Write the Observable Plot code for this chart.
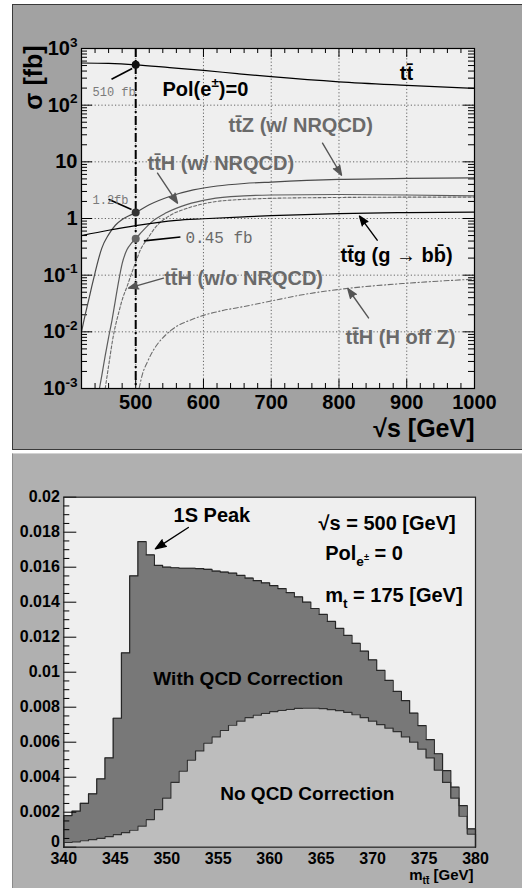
<!DOCTYPE html>
<html>
<head>
<meta charset="utf-8">
<script src="https://cdn.jsdelivr.net/npm/d3@7"></script>
<script src="https://cdn.jsdelivr.net/npm/@observablehq/plot@0.6"></script>
<style>
  html, body { margin: 0; padding: 0; background: #ffffff; }
  body { width: 522px; height: 888px; position: relative; overflow: hidden; }
  .panel { position: absolute; box-sizing: border-box; }
  #bg1 { left: 12px; top: 4px; width: 510px; height: 446px; background: #a2a2a2; border-top: 1px solid #3a3a3a; border-left: 1px solid #3a3a3a; border-bottom: 1px solid #3a3a3a; }
  #bg2 { left: 12px; top: 453px; width: 510px; height: 435px; background: #b0b0b0; border-top: 1px solid #d2d2d2; border-left: 1px solid #8a8a8a; }
  .chart { position: absolute; }
  #c1 { left: 12px; top: 4px; }
  #c2 { left: 12px; top: 453px; }
  svg { overflow: visible; }
</style>
</head>
<body>
<div id="bg1" class="panel"></div>
<div id="bg2" class="panel"></div>
<div id="c1" class="chart"></div>
<div id="c2" class="chart"></div>
<script>
// ================= DATA: top panel (sigma vs sqrt(s)) =================
const ttEnergy = [420, 460, 500, 550, 600, 650, 700, 800, 900, 1000];
const ttSigma  = [555, 545, 515, 460, 410, 360, 318, 258, 224, 198];

const ttZEnergy = [420, 425, 430, 435, 440, 445, 450, 460, 470, 480, 490, 500, 520, 550, 585, 620, 660, 700, 800, 900, 1000];
const ttZSigma  = [0.010, 0.019, 0.034, 0.062, 0.11, 0.19, 0.30, 0.52, 0.76, 0.96, 1.12, 1.27, 1.75, 2.45, 3.2, 3.75, 4.15, 4.4, 4.9, 5.1, 5.2];

const ttHEnergy = [446.5, 450, 455, 460, 465, 470, 475, 480, 487, 494, 500, 510, 525, 545, 575, 610, 660, 700, 800, 900, 1000];
const ttHSigma  = [0.001, 0.0017, 0.0038, 0.008, 0.016, 0.036, 0.08, 0.16, 0.28, 0.37, 0.44, 0.6, 0.9, 1.26, 1.76, 2.2, 2.5, 2.6, 2.65, 2.6, 2.5];

const ttHnoEnergy = [455, 460, 467, 475, 481, 487, 493, 500, 507, 518, 530, 550, 575, 610, 660, 700, 800, 900, 1000];
const ttHnoSigma  = [0.001, 0.0025, 0.0085, 0.022, 0.04, 0.062, 0.10, 0.17, 0.28, 0.45, 0.72, 1.12, 1.5, 1.92, 2.18, 2.27, 2.35, 2.38, 2.38];

const ttgEnergy = [420, 460, 500, 560, 600, 660, 700, 800, 900, 1000];
const ttgSigma  = [0.50, 0.62, 0.75, 0.93, 0.99, 1.07, 1.12, 1.22, 1.27, 1.30];

const ttHoffEnergy = [505, 510, 517, 525, 534, 545, 559, 580, 600, 630, 660, 700, 750, 800, 900, 1000];
const ttHoffSigma  = [0.001, 0.0018, 0.0029, 0.0045, 0.0065, 0.009, 0.0122, 0.016, 0.0195, 0.024, 0.028, 0.035, 0.046, 0.056, 0.072, 0.085];

const refEnergy = [500];
const markedSigma = [515, 1.27, 0.44];

const xTicks1 = [500, 600, 700, 800, 900, 1000];
const xGrid1 = [500, 600, 700, 800, 900];
const yDecades = [1e-3, 1e-2, 1e-1, 1, 10, 100, 1000];
const yGrid1 = [1e-2, 1e-1, 1, 10, 100];

// ================= DATA: bottom panel (m_tt histogram) =================
const massLow = d3.range(50).map(i => +(340 + 0.8 * i).toFixed(1));
const massMax = 380;
const withQCD = [
  0.00181, 0.00206, 0.00251, 0.00305, 0.0039, 0.0051, 0.00737, 0.0111, 0.0155, 0.01746,
  0.0167, 0.0161, 0.0160, 0.01597, 0.01594, 0.01594, 0.01592, 0.01588, 0.01578, 0.01572,
  0.01566, 0.01553, 0.01538, 0.01523, 0.0151, 0.01495, 0.01478, 0.01455, 0.0143, 0.0140,
  0.01364, 0.0133, 0.0129, 0.0125, 0.0121, 0.01165, 0.0112, 0.0107, 0.0101, 0.00953,
  0.0089, 0.00838, 0.00766, 0.00695, 0.00615, 0.00534, 0.00438, 0.00343, 0.00238, 0.00105
];
const noQCD = [
  0.00027, 0.00031, 0.00037, 0.00043, 0.0005, 0.0006, 0.00072, 0.00083, 0.00097, 0.0012,
  0.00158, 0.00215, 0.0028, 0.0037, 0.00435, 0.00498, 0.0055, 0.00595, 0.0063, 0.00667,
  0.00697, 0.0072, 0.0074, 0.00755, 0.00765, 0.00775, 0.00782, 0.00788, 0.00793, 0.00795,
  0.00795, 0.00792, 0.00786, 0.0078, 0.0077, 0.00757, 0.0074, 0.0072, 0.0070, 0.0068,
  0.0066, 0.0063, 0.0060, 0.0056, 0.0051, 0.0044, 0.0037, 0.0028, 0.00177, 0.00075
];
const yTicks2 = [0, 0.002, 0.004, 0.006, 0.008, 0.01, 0.012, 0.014, 0.016, 0.018, 0.02];
const xTicks2 = [340, 345, 350, 355, 360, 365, 370, 375, 380];

// ================= helpers =================
const FONT = '"Liberation Sans", Arial, Helvetica, sans-serif';
const MONO = '"Liberation Mono", "Courier New", monospace';
const GRAYTXT = "#6a6a6a";
const pts = (xs, ys) => xs.map((x, i) => ({x, y: ys[i]}));

function parseRich(s) {
  const out = [];
  function rec(str, shift, scale) {
    let i = 0, buf = "";
    while (i < str.length) {
      const c = str[i];
      if ((c === "^" || c === "_") && str[i + 1] === "{") {
        if (buf) { out.push({text: buf, shift, scale}); buf = ""; }
        let depth = 0, j = i + 1;
        for (; j < str.length; j++) {
          if (str[j] === "{") depth++;
          else if (str[j] === "}") { depth--; if (depth === 0) break; }
        }
        rec(str.slice(i + 2, j), shift + (c === "^" ? -0.42 * scale : 0.3 * scale), scale * 0.68);
        i = j + 1;
      } else { buf += c; i++; }
    }
    if (buf) out.push({text: buf, shift, scale});
  }
  rec(s, 0, 1);
  return out;
}
function richText(svg) {
  d3.select(svg).selectAll("text").each(function () {
    const s = this.textContent;
    if (!/[\^_]\{/.test(s)) return;
    const fs = parseFloat(getComputedStyle(this).fontSize) || 10;
    const parts = parseRich(s);
    this.textContent = "";
    let cur = 0;
    for (const p of parts) {
      const ts = document.createElementNS("http://www.w3.org/2000/svg", "tspan");
      ts.textContent = p.text;
      ts.setAttribute("font-size", (fs * p.scale).toFixed(2));
      const dy = (p.shift - cur) * fs;
      if (dy) ts.setAttribute("dy", dy.toFixed(2));
      cur = p.shift;
      this.appendChild(ts);
    }
  });
}
function powLabel(v) {
  const k = Math.round(Math.log10(v));
  if (k === 0) return "1";
  if (k === 1) return "10";
  return "10^{" + k + "}";
}

// ================= TOP PANEL =================
const W1 = 510, H1 = 445, ML1 = 69, MR1 = 48, MT1 = 44, MB1 = 61;
const IW1 = W1 - ML1 - MR1, IH1 = H1 - MT1 - MB1;
const xMinor1 = d3.range(440, 1000, 20).filter(v => v % 100 !== 0);
const yMinor1 = [];
for (let e = -3; e < 3; e++) for (let m = 2; m <= 9; m++) yMinor1.push(m * Math.pow(10, e));

const topPlot = Plot.plot({
  width: W1, height: H1,
  marginLeft: ML1, marginRight: MR1, marginTop: MT1, marginBottom: MB1,
  style: {background: "none", fontFamily: FONT, overflow: "visible", color: "#000"},
  x: {domain: [420, 1000], axis: null},
  y: {type: "log", domain: [1e-3, 1e3], axis: null},
  marks: [
    Plot.frame({fill: "#efefef", stroke: "none"}),
    Plot.ruleX(xGrid1, {stroke: "#555", strokeWidth: 0.9, strokeDasharray: "1.2,2.2"}),
    Plot.ruleY(yGrid1, {stroke: "#555", strokeWidth: 0.9, strokeDasharray: "1.2,2.2"}),
    // inward ticks
    Plot.ruleX(xMinor1, {insetTop: IH1 - 5, stroke: "#000"}),
    Plot.ruleX(xMinor1, {insetBottom: IH1 - 5, stroke: "#000"}),
    Plot.ruleX(xTicks1, {insetTop: IH1 - 9, stroke: "#000"}),
    Plot.ruleX(xTicks1, {insetBottom: IH1 - 9, stroke: "#000"}),
    Plot.ruleY(yMinor1, {insetRight: IW1 - 6, stroke: "#000"}),
    Plot.ruleY(yMinor1, {insetLeft: IW1 - 6, stroke: "#000"}),
    Plot.ruleY(yDecades, {insetRight: IW1 - 11, stroke: "#000"}),
    Plot.ruleY(yDecades, {insetLeft: IW1 - 11, stroke: "#000"}),
    // curves
    Plot.line(pts(ttHoffEnergy, ttHoffSigma), {x: "x", y: "y", stroke: "#6e6e6e", strokeWidth: 1.1, strokeDasharray: "5,2.5,1.2,2.5", curve: "monotone-x", clip: true}),
    Plot.line(pts(ttHnoEnergy, ttHnoSigma), {x: "x", y: "y", stroke: "#6a6a6a", strokeWidth: 1.1, strokeDasharray: "3,2", curve: "monotone-x", clip: true}),
    Plot.line(pts(ttHEnergy, ttHSigma), {x: "x", y: "y", stroke: "#5c5c5c", strokeWidth: 1.2, curve: "monotone-x", clip: true}),
    Plot.line(pts(ttZEnergy, ttZSigma), {x: "x", y: "y", stroke: "#4a4a4a", strokeWidth: 1.2, curve: "monotone-x", clip: true}),
    Plot.line(pts(ttgEnergy, ttgSigma), {x: "x", y: "y", stroke: "#000", strokeWidth: 1.2, curve: "monotone-x", clip: true}),
    Plot.line(pts(ttEnergy, ttSigma), {x: "x", y: "y", stroke: "#000", strokeWidth: 1.2, curve: "monotone-x", clip: true}),
    // sqrt(s) = 500 marker line
    Plot.ruleX(refEnergy, {stroke: "#000", strokeWidth: 2, strokeDasharray: "9,3,2,3"}),
    // marked points
    Plot.dot(markedSigma, {x: () => refEnergy[0], y: d => d, r: 4, fill: (d, i) => ["#111", "#333", "#666"][i], stroke: "none"}),
    // annotation leader lines
    Plot.link([
      {x1: 464.3, y1: 287, x2: 494.8, y2: 444},
      {x1: 459.8, y1: 2.19, x2: 493.8, y2: 1.44},
      {x1: 512, y1: 0.403, x2: 566, y2: 0.473}
    ], {x1: "x1", y1: "y1", x2: "x2", y2: "y2", stroke: "#000", strokeWidth: 1.6}),
    Plot.text([{x: 436.2, y: 169, t: "510 fb"}, {x: 436.2, y: 2.1, t: "1.2fb"}], {x: "x", y: "y", text: "t", textAnchor: "start", fontFamily: MONO, fontSize: 12, fill: "#7a7a7a"}),
    Plot.text([{x: 573.5, y: 0.45, t: "0.45 fb"}], {x: "x", y: "y", text: "t", textAnchor: "start", fontFamily: MONO, fontSize: 16, fill: "#6a6a6a"}),
    // labels
    Plot.text([{x: 899.6, y: 366, t: "tt̄"}], {x: "x", y: "y", text: "t", textAnchor: "middle", fontSize: 20, fontWeight: "bold", fill: "#000"}),
    Plot.text([{x: 539.5, y: 191, t: "Pol(e^{±})=0"}], {x: "x", y: "y", text: "t", textAnchor: "start", fontSize: 20, fontWeight: "bold", fill: "#000"}),
    Plot.text([{x: 802.2, y: 0.225, t: "tt̄g (g → bb̄)"}], {x: "x", y: "y", text: "t", textAnchor: "start", fontSize: 20, fontWeight: "bold", fill: "#000"}),
    Plot.text([
      {x: 637, y: 44.3, t: "tt̄Z (w/ NRQCD)"},
      {x: 517.4, y: 9.46, t: "tt̄H (w/ NRQCD)"},
      {x: 542, y: 0.0885, t: "tt̄H (w/o NRQCD)"},
      {x: 809.6, y: 0.00805, t: "tt̄H (H off Z)"}
    ], {x: "x", y: "y", text: "t", textAnchor: "start", fontSize: 20, fontWeight: "bold", fill: GRAYTXT}),
    // arrows
    Plot.arrow([
      {x1: 775.7, y1: 21.3, x2: 803.7, y2: 5.8},
      {x1: 532.2, y1: 6.3, x2: 561.7, y2: 1.86},
      {x1: 541, y1: 0.0885, x2: 489.4, y2: 0.059},
      {x1: 843.6, y1: 0.0176, x2: 813, y2: 0.0582}
    ], {x1: "x1", y1: "y1", x2: "x2", y2: "y2", stroke: "#555", fill: "#555", strokeWidth: 1.4, headLength: 11, headAngle: 40}),
    Plot.arrow([{x1: 856.4, y1: 0.414, x2: 830.3, y2: 1.1}], {x1: "x1", y1: "y1", x2: "x2", y2: "y2", stroke: "#000", fill: "#000", strokeWidth: 1.4, headLength: 11, headAngle: 40}),
    Plot.frame({stroke: "#000", strokeWidth: 1.2}),
    // tick labels
    Plot.text(xTicks1, {x: d => d, frameAnchor: "bottom", lineAnchor: "middle", dy: 14, text: d => String(d), fontSize: 20, fontWeight: "bold", fill: "#000"}),
    Plot.text(yDecades, {y: d => d, frameAnchor: "left", lineAnchor: "middle", dx: -4, textAnchor: "end", text: powLabel, fontSize: 20, fontWeight: "bold", fill: "#000"}),
    // axis titles
    Plot.text(["σ [fb]"], {frameAnchor: "top-left", lineAnchor: "middle", dx: -48, dy: 29, rotate: -90, textAnchor: "middle", fontSize: 25, fontWeight: "bold", fill: "#000"}),
    Plot.text(["√s [GeV]"], {frameAnchor: "bottom-right", lineAnchor: "middle", dx: 0, dy: 40, textAnchor: "end", fontSize: 25, fontWeight: "bold", fill: "#000"})
  ]
});
document.getElementById("c1").appendChild(topPlot);
richText(topPlot);

// ================= BOTTOM PANEL =================
const W2 = 510, H2 = 435, ML2 = 51.3, MR2 = 47, MT2 = 43.7, MB2 = 41.3;
const IW2 = W2 - ML2 - MR2;
const yMinor2 = d3.range(0, 0.0201, 0.0005).filter(v => Math.abs(v / 0.002 - Math.round(v / 0.002)) > 1e-6);
const stepPts = vals => {
  const p = vals.map((v, i) => ({x: massLow[i], y: v}));
  p.push({x: massMax, y: vals[vals.length - 1]});
  return p;
};
const outlinePts = vals => [{x: massLow[0], y: 0}, ...stepPts(vals), {x: massMax, y: 0}];

const botPlot = Plot.plot({
  width: W2, height: H2,
  marginLeft: ML2, marginRight: MR2, marginTop: MT2, marginBottom: MB2,
  style: {background: "none", fontFamily: FONT, overflow: "visible", color: "#000"},
  x: {domain: [340, 380], axis: null},
  y: {domain: [0, 0.02], axis: null},
  marks: [
    Plot.frame({fill: "#efefef", stroke: "none"}),
    Plot.areaY(stepPts(withQCD), {x: "x", y: "y", curve: "step-after", fill: "#787878"}),
    Plot.areaY(stepPts(noQCD), {x: "x", y: "y", curve: "step-after", fill: "#bdbdbd"}),
    Plot.line(outlinePts(withQCD), {x: "x", y: "y", curve: "step-after", stroke: "#262626", strokeWidth: 1.2}),
    Plot.line(outlinePts(noQCD), {x: "x", y: "y", curve: "step-after", stroke: "#303030", strokeWidth: 1.2}),
    Plot.ruleY(yMinor2, {insetRight: IW2 - 6, stroke: "#000"}),
    Plot.ruleY(yTicks2, {insetRight: IW2 - 13, stroke: "#000"}),
    Plot.frame({stroke: "#222", strokeWidth: 1.2}),
    // annotations
    Plot.text([{x: 350.66, y: 0.01895, t: "1S Peak"}], {x: "x", y: "y", text: "t", textAnchor: "start", fontSize: 20, fontWeight: "bold", fill: "#000"}),
    Plot.arrow([{x1: 352.1, y1: 0.01827, x2: 348.9, y2: 0.01705}], {x1: "x1", y1: "y1", x2: "x2", y2: "y2", stroke: "#000", fill: "#000", strokeWidth: 1.4, headLength: 12, headAngle: 40}),
    Plot.text([
      {x: 364.75, y: 0.0185, t: "√s = 500 [GeV]"},
      {x: 365.4, y: 0.01678, t: "Pol_{e^{±}} = 0"},
      {x: 365.4, y: 0.01439, t: "m_{t} = 175 [GeV]"}
    ], {x: "x", y: "y", text: "t", textAnchor: "start", fontSize: 20, fontWeight: "bold", fill: "#000"}),
    Plot.text([
      {x: 348.7, y: 0.00964, t: "With QCD Correction"},
      {x: 355.2, y: 0.00307, t: "No QCD Correction"}
    ], {x: "x", y: "y", text: "t", textAnchor: "start", fontSize: 19, fontWeight: "bold", fill: "#000"}),
    // tick labels
    Plot.text(yTicks2.filter(d => d > 0), {y: d => d, frameAnchor: "left", lineAnchor: "middle", dx: -4, textAnchor: "end", text: d => String(+d.toFixed(3)), fontSize: 16, fontWeight: "bold", fill: "#000"}),
    Plot.text([0], {y: d => d, frameAnchor: "left", lineAnchor: "middle", dx: -4, dy: -5, textAnchor: "end", text: () => "0", fontSize: 16, fontWeight: "bold", fill: "#000"}),
    Plot.text(xTicks2, {x: d => d, frameAnchor: "bottom", lineAnchor: "middle", dy: 12, text: d => String(d), fontSize: 16, fontWeight: "bold", fill: "#000"}),
    Plot.text(["m_{tt̄} [GeV]"], {frameAnchor: "bottom-right", lineAnchor: "middle", dx: -2, dy: 28, textAnchor: "end", fontSize: 15, fontWeight: "bold", fill: "#000"})
  ]
});
document.getElementById("c2").appendChild(botPlot);
richText(botPlot);
</script>
</body>
</html>
